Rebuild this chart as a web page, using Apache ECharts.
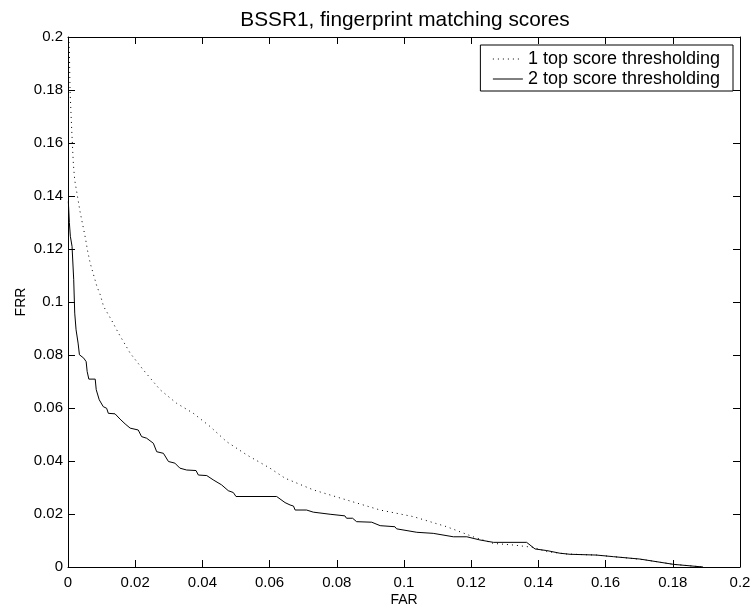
<!DOCTYPE html>
<html>
<head>
<meta charset="utf-8">
<script src="https://cdn.jsdelivr.net/npm/echarts@6/dist/echarts.min.js"></script>
<style>html,body{margin:0;padding:0;background:#fff}#c{width:752px;height:615px}</style>
</head>
<body>
<div id="c"></div>
<script>
var titleText = 'BSSR1, fingerprint matching scores';
var seriesNames = ['1 top score thresholding', '2 top score thresholding'];
var xTickLabels = ['0','0.02','0.04','0.06','0.08','0.1','0.12','0.14','0.16','0.18','0.2'];
var yTickLabels = ['0','0.02','0.04','0.06','0.08','0.1','0.12','0.14','0.16','0.18','0.2'];

var farTop1 = [0.0002,0.0004,0.0006,0.0011,0.0016,0.0020,0.0028,0.0036,0.0044,0.0052,0.0058,0.0066,0.0076,0.0086,0.0096,0.0106,0.0129,0.0150,0.0185,0.0224,0.0274,0.0323,0.0373,0.0423,0.0472,0.0532,0.0601,0.0646,0.0730,0.0829,0.0929,0.1028,0.1127,0.1206,0.1266,0.1325,0.1385,0.1425,0.1484,0.1573,0.1673,0.1722,0.1802,0.1890];
var frrTop1 = [0.2,0.196,0.180,0.165,0.152,0.146,0.140,0.134,0.129,0.124,0.1195,0.1147,0.1103,0.1059,0.1027,0.0983,0.0933,0.0883,0.0807,0.0744,0.0669,0.0618,0.058,0.053,0.0473,0.0423,0.0373,0.0335,0.0291,0.0253,0.0215,0.019,0.0152,0.0114,0.0089,0.0083,0.0074,0.0058,0.0049,0.0045,0.0033,0.0026,0.001,0];

var farTop2 = [0.0001,0.0004,0.0007,0.0012,0.0017,0.0020,0.0024,0.0030,0.0034,0.0047,0.0054,0.0057,0.0062,0.0081,0.0084,0.0093,0.0105,0.0115,0.0120,0.0140,0.0155,0.0170,0.0185,0.0209,0.0219,0.0234,0.0254,0.0264,0.0284,0.0299,0.0318,0.0333,0.0353,0.0381,0.0388,0.0413,0.0432,0.0457,0.0477,0.0492,0.0500,0.0621,0.0646,0.0661,0.0671,0.0676,0.0710,0.0730,0.0780,0.0824,0.0829,0.0847,0.0859,0.0904,0.0929,0.0973,0.0978,0.1038,0.1087,0.1147,0.1187,0.1226,0.1266,0.1365,0.1390,0.1425,0.1464,0.1494,0.1573,0.1623,0.1702,0.1722,0.1802,0.1890];
var frrTop2 = [0.138,0.130,0.1248,0.121,0.1084,0.0958,0.0895,0.0845,0.0801,0.0788,0.0775,0.0738,0.0709,0.0709,0.0669,0.0631,0.0605,0.0599,0.058,0.0578,0.0558,0.054,0.0524,0.0517,0.0492,0.0486,0.0467,0.0435,0.0429,0.0398,0.0392,0.0373,0.0366,0.0364,0.0347,0.0345,0.0329,0.031,0.0288,0.0281,0.0266,0.0266,0.0243,0.0234,0.023,0.0215,0.0215,0.0207,0.0199,0.0193,0.0184,0.0184,0.0171,0.0169,0.0156,0.0152,0.0144,0.0131,0.0127,0.0114,0.0114,0.0102,0.0093,0.0093,0.0068,0.0062,0.0052,0.0048,0.0045,0.0039,0.003,0.0026,0.001,0];

function pairs(xs, ys){ return xs.map(function(x,i){ return [x, ys[i]]; }); }
var FONT = '"Liberation Sans", Arial, Helvetica, sans-serif';
function lab(arr){ return function(v){ return arr[Math.round(v/0.02)]; }; }

var baseAxis = {
  min: 0, max: 0.2, interval: 0.02,
  axisLine: {show: true, onZero: false, lineStyle: {color: '#000', width: 1}},
  axisTick: {show: true, inside: true, length: 7, lineStyle: {color: '#000', width: 1}},
  splitLine: {show: false}
};

var chart = echarts.init(document.getElementById('c'), null, {renderer: 'canvas'});
chart.setOption({
  animation: false,
  backgroundColor: '#fff',
  title: {
    text: titleText, left: 400, top: 5, textAlign: 'center',
    textStyle: {fontFamily: FONT, fontSize: 20.8, fontWeight: 'normal', color: '#000'}
  },
  legend: {
    orient: 'vertical', right: 19, top: 45,
    backgroundColor: '#fff', borderColor: '#000', borderWidth: 1,
    padding: [5, 13, 3, 12], itemGap: 2, itemWidth: 30, itemHeight: 18,
    itemStyle: {opacity: 0},
    lineStyle: {width: 1},
    textStyle: {fontFamily: FONT, fontSize: 18, color: '#000', lineHeight: 18},
    data: seriesNames
  },
  grid: {left: 68, right: 12, top: 37, bottom: 48, containLabel: false, outerBoundsMode: 'none'},
  xAxis: [
    Object.assign({}, baseAxis, {
      type: 'value', position: 'bottom', name: 'FAR', nameLocation: 'middle', nameGap: 26,
      nameMoveOverlap: false,
      nameTextStyle: {fontFamily: FONT, fontSize: 14, color: '#000'},
      axisLabel: {fontFamily: FONT, fontSize: 15, color: '#000', margin: 8, formatter: lab(xTickLabels)}
    }),
    Object.assign({}, baseAxis, {type: 'value', position: 'top', axisLabel: {show: false}})
  ],
  yAxis: [
    Object.assign({}, baseAxis, {
      type: 'value', position: 'left', name: 'FRR', nameLocation: 'middle', nameGap: 40,
      nameMoveOverlap: false,
      nameTextStyle: {fontFamily: FONT, fontSize: 14, color: '#000'},
      axisLabel: {fontFamily: FONT, fontSize: 15, color: '#000', margin: 5, formatter: lab(yTickLabels)}
    }),
    Object.assign({}, baseAxis, {type: 'value', position: 'right', axisLabel: {show: false}})
  ],
  series: [
    {
      name: seriesNames[0], type: 'line', data: pairs(farTop1, frrTop1),
      showSymbol: false, symbol: 'none', smooth: false,
      lineStyle: {color: '#000', width: 1, type: [1, 4]}, itemStyle: {color: '#000'}
    },
    {
      name: seriesNames[1], type: 'line', data: pairs(farTop2, frrTop2),
      showSymbol: false, symbol: 'none', smooth: false,
      lineStyle: {color: '#000', width: 1, type: 'solid'}, itemStyle: {color: '#000'}
    }
  ]
});
</script>
</body>
</html>
